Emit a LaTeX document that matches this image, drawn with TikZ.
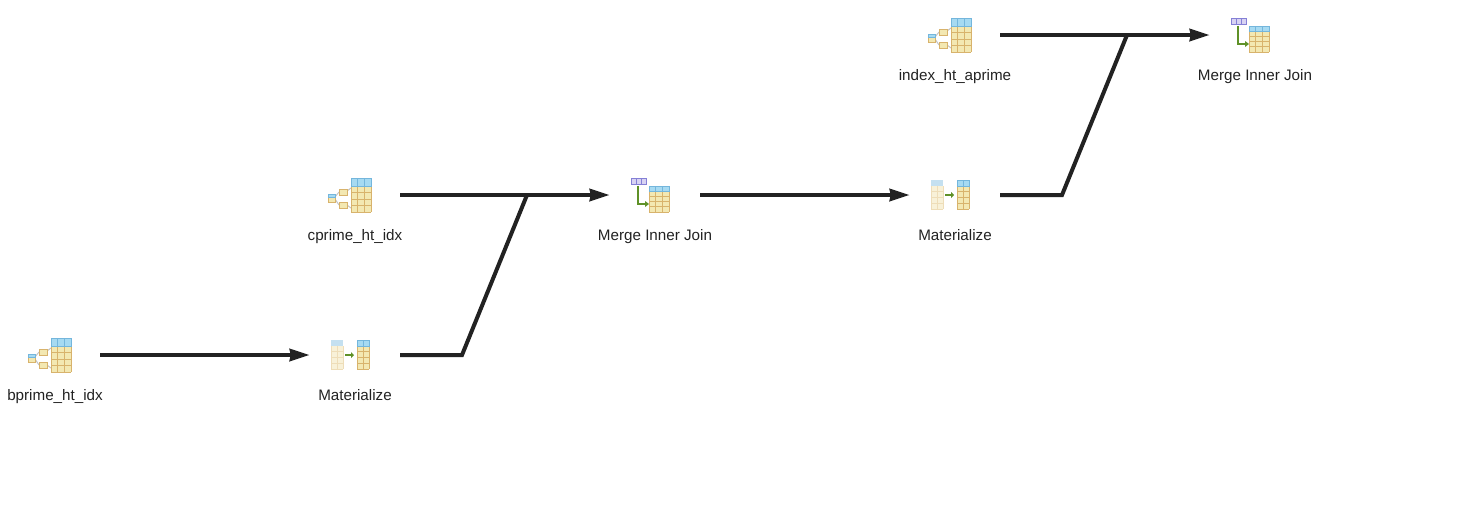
\documentclass[tikz,border=0pt]{standalone}
\usepackage{fontspec}
\setmainfont{Liberation Sans}
\usetikzlibrary{arrows.meta}

% grid table: x0,y0,x1,y1,header bottom,columns,fill colour,line colour,header colour
\newcommand{\gridtable}[9]{%
  \fill[#7] (#1,#2) rectangle (#3,#4);
  \fill[#9] (#1,#2) rectangle (#3,#5);
  \pgfmathsetmacro{\colw}{(#3-#1)/#6}
  \pgfmathsetmacro{\rowh}{(#4-#5)/4}
  \foreach \c in {0,...,#6} \draw[#8,line width=.9pt] ({#1+\c*\colw},#5) -- ({#1+\c*\colw},#4);
  \foreach \r in {1,...,4} \draw[#8,line width=.9pt] (#1,{#5+\r*\rowh}) -- (#3,{#5+\r*\rowh});
}

\definecolor{cellfill}{HTML}{F3E8B2}
\definecolor{cellline}{HTML}{D8B36C}
\definecolor{headfill}{HTML}{A6DAF2}
\definecolor{headline}{HTML}{74B6DC}
\definecolor{arrowgreen}{HTML}{5F9128}
\definecolor{mergefill}{HTML}{D8D3F3}
\definecolor{mergeline}{HTML}{8580D6}
\definecolor{linkgrey}{HTML}{C4C4C4}
\definecolor{paleline}{HTML}{EEDDB8}
\definecolor{palefill}{HTML}{F8F1D8}
\definecolor{palehead}{HTML}{C4E0F0}
\definecolor{edgeblack}{HTML}{222222}

\begin{document}
\begin{tikzpicture}[x=1pt,y=-1pt]
\tikzset{opnode/.style = {shape=rectangle,minimum width=90pt,minimum height=40pt,inner sep=0pt}}
\tikzset{oplabel/.style = {anchor=base,text=edgeblack,font=\fontsize{15.2}{17}\selectfont}}
\tikzset{edge/.style = {draw=edgeblack,line width=4pt,-{Stealth[length=20pt,width=12pt,inset=1pt]}}}
\tikzset{branch/.style = {draw=edgeblack,line width=4pt}}
\tikzset{
  indexscan/.pic = {
    \draw[linkgrey,line width=1pt] (-20,2) -- (-16,-3) (-20,4) -- (-16,10);
    \draw[linkgrey,line width=1pt] (-8,-4) -- (-4,-7) (-8,10) -- (-4,13);
    \fill[cellfill,draw=cellline,line width=.8pt] (-16,-6) rectangle (-8,0);
    \fill[cellfill,draw=cellline,line width=.8pt] (-16,7) rectangle (-8,13);
    \fill[cellfill,draw=cellline,line width=.8pt] (-27,-1) rectangle (-20,7);
    \fill[headfill,draw=headline,line width=.8pt] (-27,-1) rectangle (-20,2);
    \gridtable{-4}{-17}{16}{17}{-9}{3}{cellfill}{cellline}{headfill}
    \draw[headline,line width=.9pt] (-4,-17) rectangle (16,-9) (2.67,-17) -- (2.67,-9) (9.33,-17) -- (9.33,-9);
  },
  mergejoin/.pic = {
    \fill[mergefill,draw=mergeline,line width=.9pt] (-24,-17) rectangle (-9,-11);
    \draw[mergeline,line width=.9pt] (-19,-17) -- (-19,-11) (-14,-17) -- (-14,-11);
    \draw[arrowgreen,line width=1.6pt] (-17,-9) -- (-17,9) -- (-9,9);
    \fill[arrowgreen] (-10,6) -- (-6,9) -- (-10,12) -- cycle;
    \gridtable{-6}{-9}{14}{17}{-4}{3}{cellfill}{cellline}{headfill}
    \draw[headline,line width=.9pt] (-6,-9) rectangle (14,-4) (.67,-9) -- (.67,-4) (7.33,-9) -- (7.33,-4);
  },
  materialize/.pic = {
    \gridtable{-24}{-15}{-12}{14}{-9}{2}{palefill}{paleline}{palehead}
    \gridtable{2}{-15}{14}{14}{-9}{2}{cellfill}{cellline}{headfill}
    \draw[headline,line width=.9pt] (2,-15) rectangle (14,-9) (8,-15) -- (8,-9);
    \draw[arrowgreen,line width=2pt] (-10,0) -- (-3,0);
    \fill[arrowgreen] (-4,-3) -- (-1,0) -- (-4,3) -- cycle;
  }
}
\useasboundingbox (0,0) rectangle (1483,509);

\node[opnode] (bscan) at (55,355) {};
\node[opnode] (bmat) at (355,355) {};
\node[opnode] (cscan) at (355,195) {};
\node[opnode] (join1) at (655,195) {};
\node[opnode] (mat2) at (955,195) {};
\node[opnode] (ascan) at (955,35) {};
\node[opnode] (join2) at (1255,35) {};

\pic at (bscan) {indexscan};
\pic at (cscan) {indexscan};
\pic at (ascan) {indexscan};
\pic at (bmat) {materialize};
\pic at (mat2) {materialize};
\pic at (join1) {mergejoin};
\pic at (join2) {mergejoin};

\node[oplabel] (bscanl) at (55,400) {bprime\_ht\_idx};
\node[oplabel] (bmatl) at (355,400) {Materialize};
\node[oplabel] (cscanl) at (355,240) {cprime\_ht\_idx};
\node[oplabel] (join1l) at (655,240) {Merge Inner Join};
\node[oplabel] (mat2l) at (955,240) {Materialize};
\node[oplabel] (ascanl) at (955,80) {index\_ht\_aprime};
\node[oplabel] (join2l) at (1255,80) {Merge Inner Join};

\coordinate (bend1) at (462,355);
\coordinate (meet1) at (527,195);
\coordinate (bend2) at (1062,195);
\coordinate (meet2) at (1127,35);

\draw[edge] (bscan.east) -- (bmat.west);
\draw[edge] (cscan.east) -- (join1.west);
\draw[edge] (join1.east) -- (mat2.west);
\draw[edge] (ascan.east) -- (join2.west);
\draw[branch] (bmat.east) -- (bend1) -- (meet1);
\draw[branch] (mat2.east) -- (bend2) -- (meet2);
\end{tikzpicture}
\end{document}
